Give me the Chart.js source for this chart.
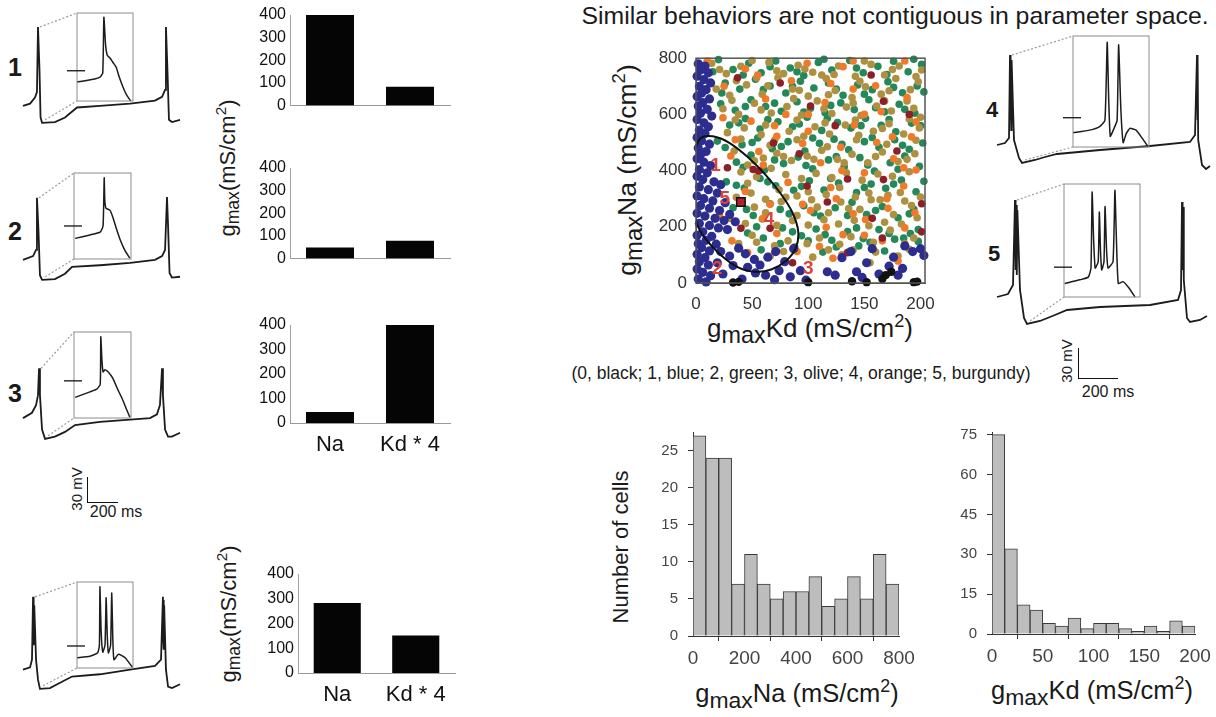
<!DOCTYPE html>
<html>
<head>
<meta charset="utf-8">
<script src="https://cdn.jsdelivr.net/npm/chart.js@4.4.1/dist/chart.umd.min.js"></script>
<style>
  body { margin: 0; background: #fff; width: 1216px; height: 717px; position: relative; overflow: hidden;
         font-family: 'Liberation Sans', Arial, Helvetica, sans-serif; color: #1a1a1a; }
  canvas { position: absolute; }
  .txt { position: absolute; white-space: nowrap; transform: translate(-50%, -50%); }
  .rot { transform: translate(-50%, -50%) rotate(-90deg); }
  .num { position: absolute; font-weight: bold; transform: translate(-50%, -50%); }
  .sb { position: absolute; border-left: 1.6px solid #111; border-bottom: 1.6px solid #111; }
  sub { font-size: 80%; vertical-align: -0.25em; }
  sup { font-size: 70%; vertical-align: 0.55em; }
  .big sub { font-size: 90%; }
</style>
</head>
<body>

<div class="txt" style="left:895px;top:16px;font-size:24.8px">Similar behaviors are not contiguous in parameter space.</div>
<div class="txt" style="left:801px;top:373px;font-size:17.5px">(0, black; 1, blue; 2, green; 3, olive; 4, orange; 5, burgundy)</div>

<div class="num" style="left:15px;top:67px;font-size:25px">1</div>
<div class="num" style="left:15px;top:231px;font-size:25px">2</div>
<div class="num" style="left:15px;top:393px;font-size:25px">3</div>
<div class="num" style="left:992px;top:110px;font-size:22px">4</div>
<div class="num" style="left:994px;top:254px;font-size:22px">5</div>

<div class="sb" style="left:87px;top:477px;width:30px;height:25px"></div>
<div class="txt rot" style="left:76px;top:489px;font-size:15px">30 mV</div>
<div class="txt" style="left:116px;top:512px;font-size:16px">200 ms</div>
<div class="sb" style="left:1078px;top:348px;width:39px;height:30px"></div>
<div class="txt rot" style="left:1066px;top:361px;font-size:15px">30 mV</div>
<div class="txt" style="left:1108px;top:392px;font-size:16px">200 ms</div>

<div class="txt rot" style="left:228px;top:168px;font-size:22px">g<sub>max</sub>(mS/cm<sup>2</sup>)</div>
<div class="txt rot" style="left:229px;top:614px;font-size:22px">g<sub>max</sub>(mS/cm<sup>2</sup>)</div>
<div class="txt rot big" style="left:628px;top:170px;font-size:26.5px">g<sub>max</sub>Na (mS/cm<sup>2</sup>)</div>
<div class="txt big" style="left:810px;top:330px;font-size:26px">g<sub>max</sub>Kd (mS/cm<sup>2</sup>)</div>
<div class="txt rot" style="left:621px;top:547px;font-size:22px">Number of cells</div>
<div class="txt big" style="left:797px;top:695px;font-size:25.5px">g<sub>max</sub>Na (mS/cm<sup>2</sup>)</div>
<div class="txt big" style="left:1092px;top:692px;font-size:25.5px">g<sub>max</sub>Kd (mS/cm<sup>2</sup>)</div>

<script>
// ---------- data ----------
// bar panels (gmax in mS/cm2), one entry per model row
const barLabels = ['Na', 'Kd * 4'];
const barNa = [400, 48, 45, 283];
const barKd4 = [83, 78, 400, 152];

// voltage traces: time (ms) and membrane potential (mV)
const trace1T = [0, 47, 80, 93, 100, 110, 117, 127, 213, 280, 360, 513, 714, 880, 927, 947, 953, 963, 973, 993, 1047];
const trace1V = [-58, -55, -47, -40, 45, -11, -73, -80, -79, -73, -60, -58, -55, -51, -46, -37, 45, -11, -76, -79, -76];
const inset1T = [0, 29, 41, 46, 48, 51, 54, 59, 64, 70, 75, 82, 89, 96];
const inset1V = [-48, -44, -41, -35, 44, 5, -10, -14, -20, -27, -40, -55, -67, -75];

const trace2T = [0, 67, 87, 93, 103, 113, 127, 213, 280, 327, 513, 714, 880, 927, 947, 960, 967, 977, 993, 1047];
const trace2V = [-54, -49, -41, 27, -15, -74, -80, -79, -72, -63, -61, -58, -54, -49, -41, 28, -9, -71, -77, -76];
const inset2T = [2, 28, 46, 51, 53, 54, 56, 63, 68, 74, 81, 89, 98];
const inset2V = [-45, -40, -36, -27, 43, 11, -1, -4, -14, -30, -47, -62, -74];

const trace3T = [0, 60, 87, 100, 107, 113, 127, 147, 213, 280, 347, 513, 714, 847, 893, 913, 927, 933, 947, 967, 993, 1047];
const trace3V = [-53, -46, -36, -23, 12, -23, -68, -80, -77, -71, -62, -58, -55, -53, -48, -36, 12, -23, -68, -77, -77, -72];
const inset3T = [2, 28, 40, 46, 47, 49, 51, 54, 60, 68, 77, 84, 91, 98];
const inset3V = [-45, -37, -33, -26, 43, 9, -8, -5, -8, -17, -34, -46, -60, -74];

const traceBT = [0, 47, 60, 67, 69, 71, 73, 75, 87, 100, 113, 180, 247, 327, 513, 714, 880, 920, 933, 935, 937, 939, 941, 953, 967, 993, 1047];
const traceBV = [-55, -52, -42, 40, -16, 36, -23, 29, -42, -68, -80, -79, -72, -64, -61, -55, -50, -42, 40, -16, 36, -29, 29, -55, -77, -79, -74];
const insetBT = [0, 23, 37, 40, 41, 43, 46, 50, 52, 54, 56, 60, 62, 64, 66, 74, 86, 99];
const insetBV = [-60, -58, -53, -42, 43, -20, -52, -42, 27, -27, -53, -42, 34, -34, -63, -55, -60, -74];

const trace4T = [0, 40, 60, 65, 67, 69, 71, 73, 85, 110, 125, 190, 240, 300, 515, 765, 965, 990, 1000, 1002, 1004, 1006, 1025, 1045, 1065];
const trace4V = [-56, -54, -49, 34, -31, 31, -41, 29, -51, -69, -74, -71, -68, -65, -61, -57, -53, -46, 34, -31, 31, -51, -76, -80, -77];
const inset4T = [0, 22, 35, 42, 45, 47, 49, 53, 58, 60, 63, 66, 70, 75, 83, 91, 99];
const inset4V = [-59, -56, -52, -45, 43, -22, -63, -56, -45, 40, -33, -70, -60, -54, -56, -65, -75];

const trace5T = [0, 55, 80, 90, 93, 96, 99, 102, 115, 135, 150, 215, 290, 350, 515, 765, 905, 920, 925, 928, 931, 934, 950, 965, 1015, 1050];
const trace5V = [-53, -50, -41, 44, -26, 39, -31, 34, -46, -74, -80, -77, -71, -66, -63, -61, -56, -46, 42, -26, 37, -36, -74, -78, -76, -72];
const inset5T = [1, 21, 32, 35.5, 37, 39, 41, 45, 46.5, 48, 49.6, 52.6, 54, 56, 58, 64.5, 67, 69, 71.4, 77.6, 85.5, 93.4];
const inset5V = [-60, -56, -53, -43, 41, -12, -43, -36, 19, -23, -45, -36, 25, -23, -43, -36, 43, -12, -60, -58, -65, -75];

// parameter space scatter: [gmaxKd, gmaxNa]
const greenPts = [
  [20,795],[33,760],[47,782],[58,748],[71,790],[84,765],[96,738],[109,785],[121,758],[137,792],[149,748],[162,771],[176,789],[189,752],[201,778],
  [26,712],[39,690],[53,725],[66,701],[80,676],[93,718],[105,694],[118,712],[131,668],[144,705],[157,688],[171,716],[184,677],[197,701],
  [22,638],[35,615],[49,652],[62,628],[76,611],[90,645],[102,622],[115,606],[129,641],[141,617],[154,652],[168,609],[181,636],[195,604],
  [30,562],[44,585],[57,548],[73,574],[86,556],[99,590],[112,543],[126,571],[138,552],[151,586],[165,561],[178,538],[192,569],
  [19,505],[41,492],[55,516],[68,478],[82,503],[97,470],[110,497],[123,512],[136,474],[150,503],[163,483],[177,510],[190,476],[202,498],
  [36,430],[49,455],[61,402],[78,425],[91,448],[104,406],[118,438],[132,414],[146,446],[159,398],[173,428],[186,452],[199,415],
  [27,360],[43,338],[57,372],[71,346],[87,330],[101,364],[114,331],[127,356],[143,322],[156,352],[169,337],[183,366],[196,325],
  [33,268],[51,240],[66,282],[83,246],[96,275],[111,238],[124,268],[139,287],[152,244],[166,272],[180,232],[194,262],
  [46,178],[60,160],[77,196],[94,168],[107,192],[121,152],[135,183],[149,158],[163,190],[177,156],[191,176],
  [58,118],[88,128],[113,110],[145,132],[168,114],[198,148],
  [15,752],[42,740],[66,770],[90,752],[114,796],[143,765],[170,742],[194,796],
  [23,676],[60,688],[86,700],[125,690],[150,672],[176,696],[203,680],
  [44,628],[70,640],[96,608],[120,632],[160,624],[186,618],
  [38,570],[64,582],[92,566],[117,586],[147,560],[172,582],[200,560],
  [26,482],[50,500],[76,486],[104,516],[130,494],[157,518],[184,490],
  [42,412],[70,438],[98,418],[125,450],[153,420],[180,405],
  [36,348],[64,360],[94,344],[120,372],[150,340],[176,352],[203,362],
  [45,262],[75,262],[105,250],[135,240],[160,258],[190,246],
  [54,200],[86,182],[115,172],[143,196],[172,176],[198,190],
  [75,140],[100,150],[125,128],[155,145],[185,160]
];
const olivePts = [
  [14,782],[27,745],[40,771],[54,730],[65,785],[78,745],[91,775],[104,750],[116,728],[127,772],[142,736],[156,778],[168,740],[181,772],[196,735],
  [18,690],[30,668],[45,705],[59,672],[73,730],[86,690],[100,665],[112,740],[124,685],[139,660],[151,698],[165,672],[178,728],[191,688],
  [24,620],[38,600],[52,640],[67,605],[81,628],[94,598],[108,648],[121,603],[134,626],[147,596],[161,630],[174,612],[188,648],[200,590],
  [28,535],[43,552],[58,528],[70,508],[83,540],[96,522],[106,556],[119,530],[133,562],[145,526],[158,540],[172,567],[185,530],[199,552],
  [34,470],[46,420],[60,445],[72,462],[85,436],[99,452],[112,472],[126,440],[139,458],[153,428],[166,466],[180,432],[195,460],
  [40,395],[54,378],[67,408],[80,386],[94,372],[107,390],[121,375],[134,392],[148,366],[162,388],[175,380],[190,396],
  [36,305],[49,320],[62,298],[76,290],[90,310],[103,296],[116,315],[129,288],[142,306],[156,296],[171,312],[186,292],[200,306],
  [30,230],[44,212],[59,228],[72,205],[86,222],[100,206],[114,225],[127,210],[141,223],[154,204],[168,216],[183,210],[197,232],
  [38,140],[54,145],[70,132],[99,140],[128,138],[140,118],[158,145],[186,140],
  [66,95],[104,92],[130,100],[180,96],[155,72],
  [21,760],[50,792],[72,755],[97,762],[123,742],[150,790],[175,760],[201,758],
  [36,720],[64,702],[92,686],[118,670],[146,718],[172,684],[198,716],
  [32,650],[58,616],[87,656],[114,620],[140,640],[168,648],[194,622],
  [35,580],[62,562],[90,580],[115,570],[142,580],[166,550],[190,584],
  [40,512],[66,490],[90,510],[117,485],[143,510],[170,494],[196,508],
  [52,435],[78,450],[105,440],[132,428],[160,450],[188,440],
  [46,355],[74,332],[100,325],[128,340],[154,320],[182,322],
  [52,270],[80,305],[108,270],[136,265],[164,296],[192,276],
  [62,250],[90,240],[118,250],[146,262],[176,244],
  [50,170],[82,150],[110,160],[138,165],[173,188],[194,160],
  [78,112],[118,118],[160,110],[190,120]
];
const orangePts = [
  [10,790],[44,762],[99,782],[131,770],[186,790],[62,655],[115,642],[160,702],[188,660],[24,588],[49,576],[141,562],
  [196,574],[72,522],[95,496],[129,483],[161,500],[192,520],[31,452],[56,468],[111,428],[176,442],[150,392],[196,402],
  [82,358],[120,340],[185,345],[44,326],[66,280],[102,258],[140,246],[171,266],[116,198],[151,226],[186,196],[32,150],
  [72,176],[131,172],[166,150],[90,112],[122,88],[180,78],[21,238],[46,108],[140,690],[80,600],[165,610],[100,540],
  [25,700],[55,740],[85,720],[120,710],[150,600],[175,520],[60,420],[130,400],[170,300],[95,280],[150,170],[110,130],
  [195,250],[140,790],[70,560],[35,510],[185,410],[100,600],[125,300],[60,230]
];
const burgundyPts = [
  [37,730],[75,712],[102,630],[167,647],[156,740],[69,498],[179,470],[28,410],[51,404],[56,399],[135,370],[167,368],
  [117,288],[201,282],[99,345],[66,195],[157,230],[201,182],[135,108],[166,160],[86,72],[40,195],[124,560],[190,600],[92,460]
];
const bluePts = [
  [2,780],[8,772],[4,758],[11,748],[1,736],[7,724],[13,712],[3,700],[9,688],[5,676],[1,664],[12,655],[6,642],[2,630],
  [10,618],[4,604],[14,594],[1,582],[7,570],[11,556],[3,544],[8,532],[1,518],[5,506],[12,494],[2,480],[9,468],[4,456],
  [1,442],[7,430],[13,418],[3,404],[10,392],[1,380],[6,368],[16,360],[22,350],[3,342],[11,332],[19,320],[1,310],[7,300],
  [15,292],[26,286],[4,276],[12,266],[21,258],[1,248],[30,244],[8,238],[17,230],[25,222],[35,218],[3,212],[12,205],
  [20,196],[28,190],[6,182],[1,170],[14,166],[9,152],[2,140],[18,138],[5,126],[12,114],[1,102],[8,90],[3,76],[11,64],
  [1,50],[6,38],[13,26],[2,14],[9,4],
  [22,112],[30,96],[38,124],[44,104],[52,84],[33,62],[46,56],[57,64],[64,92],[71,112],[79,76],[87,122],[93,44],[62,28],
  [24,32],[41,14],[84,22],[98,10],[74,44],[53,36],[19,72],[70,12],
  [117,40],[124,28],[130,90],[138,112],[143,40],[152,72],[157,122],[163,32],[172,60],[176,92],[184,52],[186,132],
  [193,112],[200,122],[203,98],[180,28],[148,20]
];
const blackPts = [[33,2],[38,4],[100,3],[139,6],[152,3],[166,14],[169,28],[174,40],[194,3],[197,5]];
// region of the tonically spiking models (outline)
const ellipsePts = [
  [-2,460],[4,515],[15,522],[30,498],[47,445],[62,385],[76,315],[86,250],[91,185],[89,125],[80,78],[67,48],
  [53,40],[38,55],[22,100],[8,160],[1,210],[-3,300],[-3,400],[-2,460]
];
// models 1..5 shown in the trace panels
const modelLabels = ['1', '2', '3', '4', '5'];
const modelKd = [21, 19, 100, 65, 40];
const modelNa = [400, 48, 45, 226, 288];

// histograms
const naBins = [25, 75, 125, 175, 225, 275, 325, 375, 425, 475, 525, 575, 625, 675, 725, 775];
const naCounts = [27, 24, 24, 7, 11, 7, 5, 6, 6, 8, 4, 5, 8, 5, 11, 7];
const kdBins = [6.25, 18.75, 31.25, 43.75, 56.25, 68.75, 81.25, 93.75, 106.25, 118.75, 131.25, 143.75, 156.25, 168.75, 181.25, 193.75];
const kdCounts = [75, 32, 11, 9, 4, 3, 6, 2, 4, 4, 2, 1, 3, 1, 5, 3];

// ---------- setup ----------
Chart.defaults.animation = false;
Chart.defaults.font.family = "'Liberation Sans', Arial, Helvetica, sans-serif";
Chart.defaults.color = '#222';
Chart.defaults.plugins.legend.display = false;
Chart.defaults.plugins.tooltip.enabled = false;

const PAD = { top: 14, right: 22, bottom: 4, left: 4 };

function makeCanvas(left, top, w, h) {
    const c = document.createElement('canvas');
    c.width = Math.round(w); c.height = Math.round(h);
    c.style.left = Math.round(left) + 'px';
    c.style.top = Math.round(top) + 'px';
    c.style.width = Math.round(w) + 'px';
    c.style.height = Math.round(h) + 'px';
    document.body.appendChild(c);
    return c;
}
// canvas placed so that the plot area lands on the given page rectangle
function areaCanvas(a, yW, xH) {
    return makeCanvas(a.l - yW - PAD.left, a.t - PAD.top,
        PAD.left + yW + a.w + PAD.right, PAD.top + a.h + xH + PAD.bottom);
}
function pts(xs, ys) { return xs.map((x, i) => ({ x: x, y: ys[i] })); }
function pairs(list) { return list.map(p => ({ x: p[0], y: p[1] })); }

// ---------- gmax bar panels ----------
function gmaxBars(area, i, showLabels) {
    const xH = showLabels ? 36 : 2;
    new Chart(areaCanvas(area, 40, xH), {
        type: 'bar',
        data: {
            labels: barLabels,
            datasets: [{ data: [barNa[i], barKd4[i]], backgroundColor: '#050505', barPercentage: 0.6, categoryPercentage: 1 }]
        },
        options: {
            responsive: false,
            layout: { padding: PAD },
            scales: {
                x: {
                    grid: { display: false, drawTicks: false },
                    border: { color: '#9a9a9a' },
                    ticks: { display: showLabels, font: { size: 22 }, color: '#111', padding: 9 },
                    afterFit: s => { s.height = xH; }
                },
                y: {
                    min: 0, max: 400,
                    grid: { display: false, drawTicks: false },
                    border: { color: '#a0a0a0' },
                    ticks: { stepSize: 100, font: { size: 16 }, color: '#111', padding: 4 },
                    afterFit: s => { s.width = 40; }
                }
            }
        }
    });
}
gmaxBars({ l: 290, t: 15, w: 160, h: 98 }, 0, false);
gmaxBars({ l: 290, t: 168, w: 160, h: 98 }, 1, false);
gmaxBars({ l: 290, t: 325, w: 160, h: 98 }, 2, true);
gmaxBars({ l: 298, t: 574, w: 157, h: 99 }, 3, true);

// ---------- voltage traces with zoomed inset ----------
const insetDecor = {
    id: 'insetDecor',
    afterDatasetsDraw(chart, args, opts) {
        const { ctx, scales } = chart;
        const bl = scales.xi.getPixelForValue(0), br = scales.xi.getPixelForValue(100);
        const bt = scales.yi.getPixelForValue(50), bb = scales.yi.getPixelForValue(-75);
        ctx.save();
        ctx.strokeStyle = '#8c8c8c';
        ctx.lineWidth = 1;
        ctx.strokeRect(bl, bt, br - bl, bb - bt);
        // reference level marker
        const ty = scales.yi.getPixelForValue(opts.tickV);
        ctx.strokeStyle = '#222';
        ctx.lineWidth = 1.4;
        ctx.beginPath(); ctx.moveTo(bl - 10, ty); ctx.lineTo(bl + 8, ty); ctx.stroke();
        // dotted lines from the first spike to the inset
        const first = chart.data.datasets[0].data.filter(p => p.x < 300);
        const peak = first.reduce((a, b) => (b.y > a.y ? b : a));
        const low = first.reduce((a, b) => (b.y < a.y ? b : a));
        ctx.strokeStyle = '#9a9a9a';
        ctx.lineWidth = 1.2;
        ctx.setLineDash([2, 2]);
        ctx.beginPath();
        ctx.moveTo(scales.x.getPixelForValue(peak.x) + 2, scales.y.getPixelForValue(peak.y));
        ctx.lineTo(bl, bt);
        ctx.moveTo(scales.x.getPixelForValue(low.x) + 3, scales.y.getPixelForValue(low.y) - 3);
        ctx.lineTo(bl, bb);
        ctx.stroke();
        ctx.restore();
    }
};

// c: canvas rect; x0,y0: page px of t=0 / v=0; kx ms per px, ky mV per px; box: inset rect
function tracePanel(c, x0, kx, y0, ky, box, tT, tV, iT, iV, tickV) {
    const cv = makeCanvas(c.l, c.t, c.w, c.h);
    const ix = 100 / box.w, iy = 125 / box.h;
    const yiMax = 50 + (box.t - c.t) * iy;
    new Chart(cv, {
        type: 'line',
        data: {
            datasets: [
                { data: pts(tT, tV), xAxisID: 'x', yAxisID: 'y', borderColor: '#1c1c1c', borderWidth: 1.8, pointRadius: 0, tension: 0 },
                { data: pts(iT, iV), xAxisID: 'xi', yAxisID: 'yi', borderColor: '#1c1c1c', borderWidth: 1.5, pointRadius: 0, tension: 0.15 }
            ]
        },
        options: {
            responsive: false,
            layout: { padding: 0 },
            plugins: { insetDecor: { tickV: tickV } },
            scales: {
                x: { type: 'linear', display: false, min: (c.l - x0) * kx, max: (c.l + c.w - x0) * kx },
                y: { type: 'linear', display: false, max: (y0 - c.t) * ky, min: (y0 - c.t - c.h) * ky },
                xi: { type: 'linear', display: false, min: (c.l - box.l) * ix, max: (c.l + c.w - box.l) * ix },
                yi: { type: 'linear', display: false, max: yiMax, min: yiMax - c.h * iy }
            }
        },
        plugins: [insetDecor]
    });
}
const kL = 200 / 30, mL = 30 / 23;
tracePanel({ l: 0, t: 0, w: 200, h: 140 }, 23, kL, 61.5, mL, { l: 77, t: 13, w: 56, h: 88 }, trace1T, trace1V, inset1T, inset1V, -32);
tracePanel({ l: 0, t: 150, w: 200, h: 150 }, 23, kL, 218.5, mL, { l: 74, t: 173, w: 57, h: 86 }, trace2T, trace2V, inset2T, inset2V, -27);
tracePanel({ l: 0, t: 310, w: 200, h: 150 }, 23, kL, 377.5, mL, { l: 74, t: 332, w: 57, h: 86 }, trace3T, trace3V, inset3T, inset3V, -21);
tracePanel({ l: 0, t: 560, w: 200, h: 150 }, 23, kL, 627.5, mL, { l: 77, t: 582, w: 56, h: 86 }, traceBT, traceBV, insetBT, insetBV, -43);
tracePanel({ l: 960, t: 20, w: 256, h: 160 }, 997, 5, 89, 1, { l: 1073, t: 36, w: 76, h: 111 }, trace4T, trace4V, inset4T, inset4V, -42);
tracePanel({ l: 960, t: 175, w: 256, h: 165 }, 997, 5, 244, 1, { l: 1064, t: 184, w: 76, h: 113 }, trace5T, trace5V, inset5T, inset5V, -42);

// ---------- parameter space scatter ----------
const frame = {
    id: 'frame',
    afterDraw(chart) {
        const a = chart.chartArea, ctx = chart.ctx;
        ctx.save();
        ctx.strokeStyle = '#555';
        ctx.lineWidth = 1.5;
        ctx.strokeRect(a.left, a.top, a.right - a.left, a.bottom - a.top);
        ctx.restore();
    }
};
const modelTags = {
    id: 'modelTags',
    afterDatasetsDraw(chart, args, opts) {
        const { ctx, scales } = chart;
        ctx.save();
        ctx.fillStyle = '#d8443c';
        ctx.font = "bold 19px 'Liberation Sans', Arial, sans-serif";
        ctx.textAlign = 'center';
        ctx.textBaseline = 'middle';
        modelLabels.forEach((lab, i) => {
            const o = opts.offsets[i];
            ctx.fillText(lab, scales.x.getPixelForValue(modelKd[i]) + o[0], scales.y.getPixelForValue(modelNa[i]) + o[1]);
        });
        ctx.restore();
    }
};
function dots(list, color, r) {
    return { data: pairs(list), backgroundColor: color, borderWidth: 0, pointRadius: r, clip: 6 };
}
new Chart(areaCanvas({ l: 696, t: 53, w: 229, h: 230 }, 45, 34), {
    type: 'scatter',
    data: {
        datasets: [
            { data: [{ x: modelKd[4], y: modelNa[4] }], pointStyle: 'rect', pointRadius: 6, backgroundColor: '#b3212b', borderColor: '#111', borderWidth: 1.5 },
            { data: pairs(ellipsePts), showLine: true, borderColor: '#111', borderWidth: 2, pointRadius: 0, tension: 0.35 },
            dots(blackPts, '#111', 4.2),
            dots(bluePts, '#2d2d8f', 4.6),
            dots(burgundyPts, '#8c1f28', 3.8),
            dots(orangePts, '#f07a2a', 3.8),
            dots(olivePts, '#ad9140', 3.8),
            dots(greenPts, '#24885a', 3.8)
        ]
    },
    options: {
        responsive: false,
        layout: { padding: PAD },
        plugins: { modelTags: { offsets: [[-4, -5], [0, -1], [0, -2], [0, 0], [-16, -3]] } },
        scales: {
            x: {
                type: 'linear', min: 0, max: 204,
                grid: { display: false, drawTicks: false },
                border: { color: '#555' },
                ticks: { stepSize: 50, includeBounds: false, font: { size: 17 }, color: '#333', padding: 11 },
                afterFit: s => { s.height = 34; }
            },
            y: {
                min: 0, max: 800,
                grid: { display: false, drawTicks: false },
                border: { color: '#555' },
                ticks: { stepSize: 200, font: { size: 17 }, color: '#333', padding: 9 },
                afterFit: s => { s.width = 45; }
            }
        }
    },
    plugins: [frame, modelTags]
});

// ---------- histograms ----------
function histogram(area, bins, counts, xMax, xStep, yMax, yStep) {
    new Chart(areaCanvas(area, 40, 34), {
        type: 'bar',
        data: {
            datasets: [{ data: pts(bins, counts), backgroundColor: '#bdbdbd', borderColor: '#3a3a3a', borderWidth: 1, barPercentage: 1, categoryPercentage: 1 }]
        },
        options: {
            responsive: false,
            layout: { padding: PAD },
            scales: {
                x: {
                    type: 'linear', min: 0, max: xMax, offset: false,
                    grid: { drawOnChartArea: false, drawTicks: true, tickLength: 5, color: '#333' },
                    border: { color: '#333' },
                    ticks: { stepSize: xStep, font: { size: 19 }, color: '#444', padding: 6 },
                    afterFit: s => { s.height = 34; }
                },
                y: {
                    min: 0, max: yMax,
                    grid: { drawOnChartArea: false, drawTicks: true, tickLength: 5, color: '#333' },
                    border: { color: '#333' },
                    ticks: { stepSize: yStep, includeBounds: false, font: { size: 15 }, color: '#444', padding: 10 },
                    afterFit: s => { s.width = 40; }
                }
            }
        }
    });
}
histogram({ l: 693, t: 427, w: 206, h: 209 }, naBins, naCounts, 800, 200, 27.5, 5);
histogram({ l: 992, t: 427, w: 203, h: 207 }, kdBins, kdCounts, 200, 50, 76, 15);
</script>
</body>
</html>
